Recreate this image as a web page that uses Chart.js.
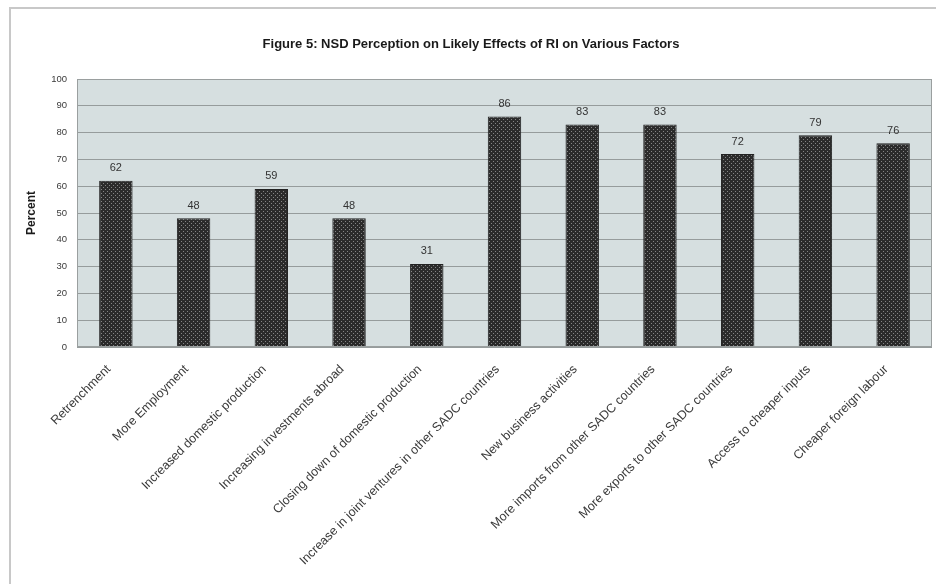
<!DOCTYPE html>
<html lang="en">
<head>
    <meta charset="UTF-8">
    <title>Figure 5: NSD Perception on Likely Effects of RI on Various Factors</title>
    <script src="https://cdn.jsdelivr.net/npm/chart.js"></script>
    <style>
        html, body {
            margin: 0;
            padding: 0;
            background: #ffffff;
            font-family: Arial, "Liberation Sans", sans-serif;
        }

        #frame {
            position: absolute;
            left: 9px;
            top: 7px;
            width: 940px;
            height: 600px;
            border-left: 2px solid #c8c8c8;
            border-top: 2px solid #c8c8c8;
        }

        #wrap {
            position: absolute;
            left: 0;
            top: 0;
            width: 936px;
            height: 584px;
        }
    </style>
</head>
<body>

    <div id="frame"></div>
    <div id="wrap">
        <canvas id="myChart" width="936" height="584"></canvas>
    </div>

    <script>
        var chartTitle = 'Figure 5: NSD Perception on Likely Effects of RI on Various Factors';
        var yAxisTitle = 'Percent';

        var factors = [
            'Retrenchment',
            'More Employment',
            'Increased domestic production',
            'Increasing investments abroad',
            'Closing down of domestic production',
            'Increase in joint ventures in other SADC countries',
            'New business activities',
            'More imports from other SADC countries',
            'More exports to other SADC countries',
            'Access to cheaper inputs',
            'Cheaper foreign labour'
        ];
        var percents = [62, 48, 59, 48, 31, 86, 83, 83, 72, 79, 76];
        var yTicks = [0, 10, 20, 30, 40, 50, 60, 70, 80, 90, 100];

        // dotted dark fill like the original print
        function makeDotPattern() {
            var c = document.createElement('canvas');
            c.width = 4;
            c.height = 4;
            var g = c.getContext('2d');
            g.fillStyle = '#2b2b2b';
            g.fillRect(0, 0, 4, 4);
            g.fillStyle = '#858585';
            g.fillRect(1, 1, 1, 1);
            g.fillRect(3, 3, 1, 1);
            return g.createPattern(c, 'repeat');
        }

        // plot background, frame and title
        var backdrop = {
            id: 'backdrop',
            beforeDraw: function (chart) {
                var a = chart.chartArea;
                var ctx = chart.ctx;
                ctx.save();
                ctx.fillStyle = '#d6dfe0';
                ctx.fillRect(a.left, a.top, a.right - a.left, a.bottom - a.top);
                ctx.fillStyle = '#1a1a1a';
                ctx.font = 'bold 13px Arial, "Liberation Sans", sans-serif';
                ctx.textAlign = 'center';
                ctx.textBaseline = 'middle';
                ctx.fillText(chartTitle, 471, 44);
                ctx.restore();
            },
            afterDatasetsDraw: function (chart) {
                var a = chart.chartArea;
                var ctx = chart.ctx;
                ctx.save();
                ctx.strokeStyle = '#9a9f9f';
                ctx.lineWidth = 1;
                ctx.strokeRect(a.left + 0.5, a.top + 0.5, a.right - a.left - 1, a.bottom - a.top - 1);
                ctx.restore();
            }
        };

        // value labels above the bars
        var valueLabels = {
            id: 'valueLabels',
            afterDatasetsDraw: function (chart) {
                var ctx = chart.ctx;
                var meta = chart.getDatasetMeta(0);
                ctx.save();
                ctx.fillStyle = '#333333';
                ctx.font = '11px Arial, "Liberation Sans", sans-serif';
                ctx.textAlign = 'center';
                ctx.textBaseline = 'bottom';
                meta.data.forEach(function (bar, i) {
                    ctx.fillText(String(percents[i]), bar.x, bar.y - 7);
                });
                ctx.restore();
            }
        };

        var ctx = document.getElementById('myChart').getContext('2d');
        var myChart = new Chart(ctx, {
            type: 'bar',
            data: {
                labels: factors,
                datasets: [{
                    data: percents,
                    backgroundColor: makeDotPattern(),
                    borderColor: '#222222',
                    borderWidth: 1,
                    barPercentage: 0.43,
                    categoryPercentage: 1
                }]
            },
            options: {
                responsive: false,
                animation: false,
                layout: {
                    padding: { top: 79, right: 4, bottom: 0, left: 0 }
                },
                plugins: {
                    legend: { display: false },
                    tooltip: { enabled: false }
                },
                scales: {
                    x: {
                        grid: { display: false },
                        border: { display: false },
                        ticks: {
                            autoSkip: false,
                            minRotation: 45,
                            maxRotation: 45,
                            padding: 7,
                            labelOffset: -7,
                            color: '#3a3a3a',
                            font: { size: 12.5, family: 'Arial, "Liberation Sans", sans-serif' }
                        },
                        afterFit: function (scale) {
                            scale.height = 237;
                        }
                    },
                    y: {
                        min: 0,
                        max: 100,
                        afterBuildTicks: function (scale) {
                            scale.ticks = yTicks.map(function (v) { return { value: v }; });
                        },
                        grid: {
                            color: '#969c9c',
                            lineWidth: 1,
                            drawTicks: false
                        },
                        border: { display: false },
                        ticks: {
                            padding: 10,
                            color: '#3a3a3a',
                            font: { size: 9.5, family: 'Arial, "Liberation Sans", sans-serif' }
                        },
                        title: {
                            display: true,
                            text: yAxisTitle,
                            color: '#1a1a1a',
                            font: { size: 12, weight: 'bold', family: 'Arial, "Liberation Sans", sans-serif' },
                            padding: { top: 24, bottom: 0 }
                        },
                        afterFit: function (scale) {
                            scale.width = 77;
                        }
                    }
                }
            },
            plugins: [backdrop, valueLabels]
        });
    </script>

</body>
</html>
